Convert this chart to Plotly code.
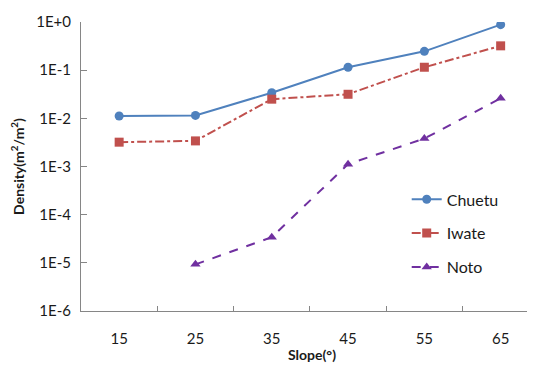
import plotly.graph_objects as go

slopes = ["15", "25", "35", "45", "55", "65"]
chuetu = [0.0112, 0.0115, 0.034, 0.115, 0.246, 0.88]
iwate = [0.0032, 0.0034, 0.025, 0.0316, 0.115, 0.32]
noto = [None, 9.3e-6, 3.4e-5, 1.12e-3, 3.8e-3, 0.026]
ytick_vals = [1, 1e-1, 1e-2, 1e-3, 1e-4, 1e-5, 1e-6]
ytick_text = ["1E+0", "1E-1", "1E-2", "1E-3", "1E-4", "1E-5", "1E-6"]

FONT = "Lato, 'Open Sans', sans-serif"

fig = go.Figure()
fig.add_trace(go.Scatter(x=slopes, y=chuetu, name="Chuetu", mode="lines+markers",
                         line=dict(color="#4F81BD", width=2),
                         marker=dict(symbol="circle", size=9, color="#4F81BD"),
                         legendgroup="a"))
fig.add_trace(go.Scatter(x=slopes, y=iwate, name="Iwate", mode="lines+markers",
                         line=dict(color="#C0504D", width=2, dash="dashdot"),
                         marker=dict(symbol="square", size=9, color="#C0504D"),
                         legendgroup="b"))
fig.add_trace(go.Scatter(x=slopes, y=noto, name="Noto", mode="lines+markers",
                         line=dict(color="#7030A0", width=2, dash="dash"),
                         marker=dict(symbol="triangle-up", size=9, color="#7030A0"),
                         legendgroup="c"))

fig.update_layout(
    width=535, height=372,
    margin=dict(l=73, r=0, t=14, b=69, autoexpand=False),
    paper_bgcolor="white", plot_bgcolor="white",
    font=dict(family=FONT, size=15, color="#1a1a1a"),
    legend=dict(x=0.705, y=0.445, xanchor="left", yanchor="top",
                bgcolor="rgba(0,0,0,0)", tracegroupgap=10, itemwidth=30,
                font=dict(size=16)),
    xaxis=dict(type="category", range=[-0.5, 5.555], showgrid=False, automargin=False,
               showline=True, linecolor="#868686", linewidth=1,
               ticks="inside", tickson="boundaries", ticklen=5, tickcolor="#868686",
               ticklabelstandoff=14,
               title=dict(text="<b>Slope(°)</b>", font=dict(size=14), standoff=4)),
    yaxis=dict(type="log", range=[-6, 0], showgrid=False, automargin=False,
               showline=True, linecolor="#868686", linewidth=1,
               ticks="inside", ticklen=6, tickcolor="#868686",
               tickvals=ytick_vals, ticktext=ytick_text, ticklabelstandoff=6,
               title=dict(text="<b>Density(m<sup>2</sup>/m<sup>2</sup>)</b>",
                          font=dict(size=14), standoff=8)),
)

fig.write_html("out.html")
